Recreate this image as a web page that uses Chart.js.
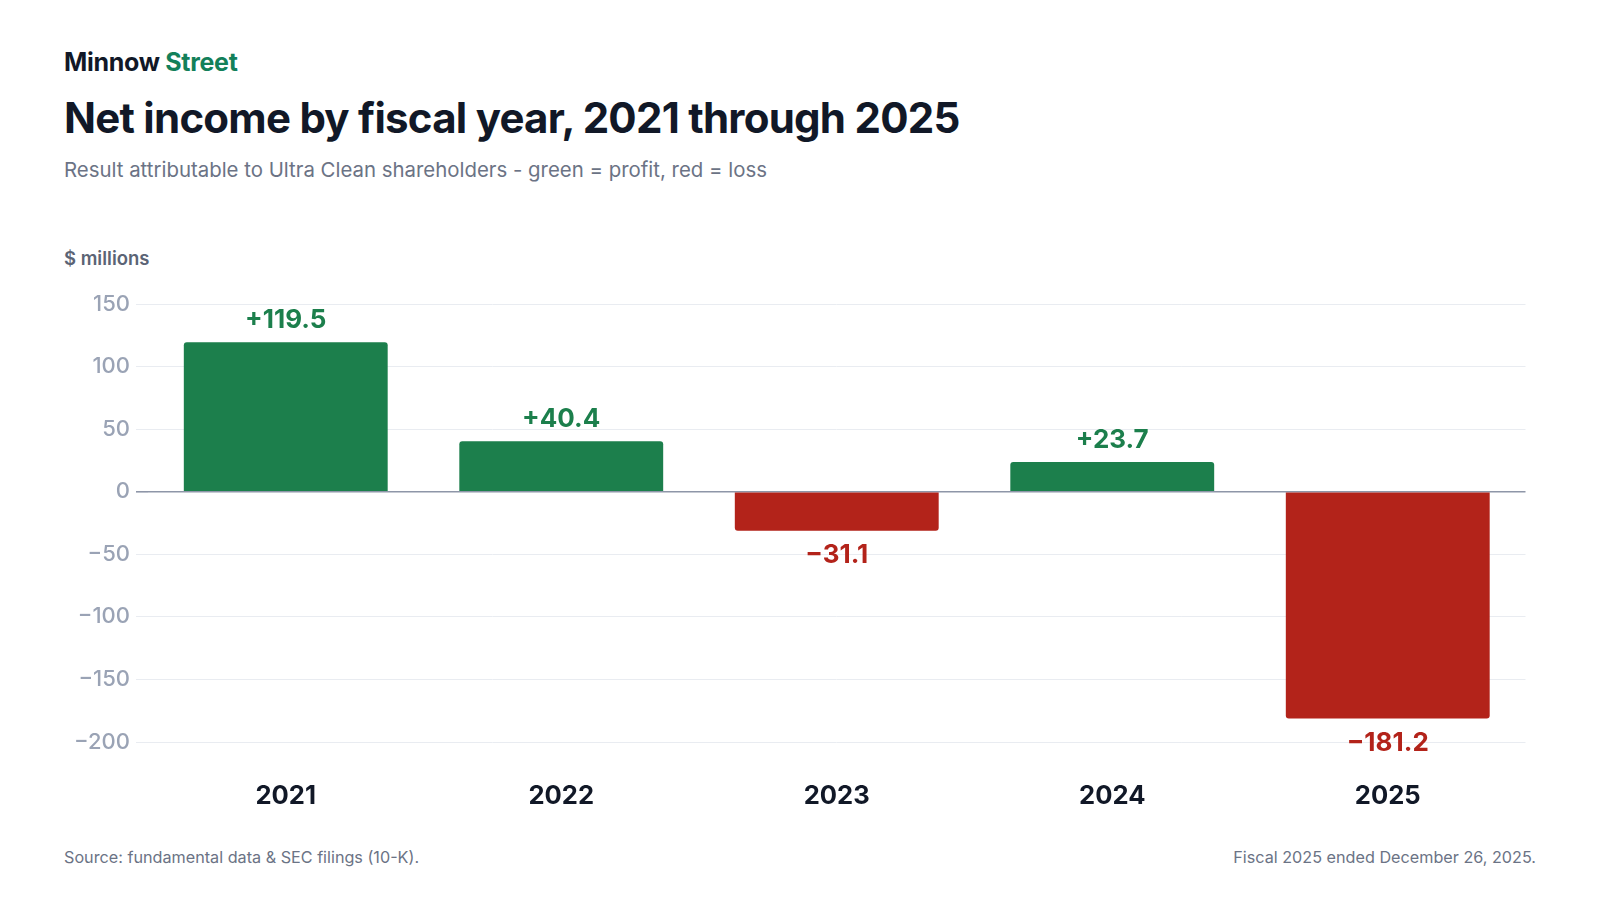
<!DOCTYPE html>
<html lang="en">
<head>
  <meta charset="UTF-8">
  <script src="https://cdn.jsdelivr.net/npm/chart.js@4.4.1/dist/chart.umd.min.js"></script>
  <title>Net income by fiscal year</title>
<style>
  html, body { margin: 0; padding: 0; background: #fff; }
  body { width: 1600px; height: 900px; position: relative; font-family: Inter, "Noto Sans", sans-serif; overflow: hidden; }
  .brand { position: absolute; left: 64px; top: 47px; font-size: 25px; font-weight: 700; color: #111827; letter-spacing: -0.3px; }
  .brand span { color: #13805a; }
  h1 { position: absolute; left: 64px; top: 92px; margin: 0; font-size: 42px; font-weight: 700; color: #111827; letter-spacing: -0.75px; }
  .sub { position: absolute; left: 64px; top: 157px; font-size: 20.4px; color: #6b7385; }
  .unit { position: absolute; left: 64px; top: 247px; font-size: 18.5px; font-weight: 600; color: #5b6475; }
  .foot { position: absolute; top: 847px; font-size: 16.2px; color: #6b7385; }
  #wrap { position: absolute; left: 0; top: 270px; width: 1600px; height: 562px; }
</style>
</head>
<body>
  <div class="brand">Minnow <span>Street</span></div>
  <h1>Net income by fiscal year, 2021 through 2025</h1>
  <div class="sub">Result attributable to Ultra Clean shareholders - green = profit, red = loss</div>
  <div class="unit">$ millions</div>
  <div id="wrap"><canvas id="bars"></canvas></div>
  <div class="foot" style="left:64px">Source: fundamental data &amp; SEC filings (10-K).</div>
  <div class="foot" style="right:64px">Fiscal 2025 ended December 26, 2025.</div>
<script>
  const years = ['2021', '2022', '2023', '2024', '2025'];
  const netIncome = [119.5, 40.4, -31.1, 23.7, -181.2];
  const yTicks = [150, 100, 50, 0, -50, -100, -150, -200];

  const GREEN = '#1c7f4c';
  const RED = '#b3231a';

  function fmt(v) {
    return (v >= 0 ? '+' : '\u2212') + Math.abs(v).toFixed(1);
  }

  // value labels above / below each bar
  const valueLabels = {
    id: 'valueLabels',
    afterDatasetsDraw(chart) {
      const ctx = chart.ctx;
      const meta = chart.getDatasetMeta(0);
      ctx.save();
      ctx.font = '700 26px Inter, "Noto Sans", sans-serif';
      ctx.textAlign = 'center';
      meta.data.forEach(function (bar, i) {
        const v = netIncome[i];
        ctx.fillStyle = v >= 0 ? GREEN : RED;
        if (v >= 0) {
          ctx.textBaseline = 'bottom';
          ctx.fillText(fmt(v), bar.x, bar.y - 9);
        } else {
          ctx.textBaseline = 'top';
          ctx.fillText(fmt(v), bar.x, bar.y + 12);
        }
      });
      ctx.restore();
    }
  };

  new Chart(document.getElementById('bars'), {
    type: 'bar',
    data: {
      labels: years,
      datasets: [{
        data: netIncome,
        backgroundColor: (c) => netIncome[c.dataIndex] >= 0 ? GREEN : RED,
        borderRadius: 3,
        borderSkipped: 'start',
        barPercentage: 0.74,
        categoryPercentage: 1
      }]
    },
    options: {
      responsive: true,
      maintainAspectRatio: false,
      animation: false,
      layout: { padding: { top: 34, right: 74.5, left: 0, bottom: 0 } },
      plugins: { legend: { display: false }, tooltip: { enabled: false } },
      scales: {
        x: {
          grid: { display: false },
          border: { display: false },
          ticks: {
            padding: 31,
            color: '#111827',
            font: { family: 'Inter', size: 25.6, weight: '700' }
          },
          afterFit(scale) { scale.height = 90; }
        },
        y: {
          min: -200,
          max: 150,
          afterBuildTicks(scale) { scale.ticks = yTicks.map(v => ({ value: v })); },
          grid: {
            color: (c) => c.tick && c.tick.value === 0 ? '#8e96a8' : '#e9ecf1',
            lineWidth: (c) => c.tick && c.tick.value === 0 ? 1.6 : 1,
            tickLength: 12,
            tickColor: (c) => c.tick && c.tick.value === 0 ? '#8e96a8' : '#e9ecf1'
          },
          border: { display: false },
          ticks: {
            padding: 6,
            color: '#9aa3b5',
            font: { family: 'Inter', size: 22, weight: '500' },
            callback: (v) => String(v).replace('-', '\u2212')
          },
          afterFit(scale) { scale.width = 148; }
        }
      }
    },
    plugins: [valueLabels]
  });
</script>
</body>
</html>
